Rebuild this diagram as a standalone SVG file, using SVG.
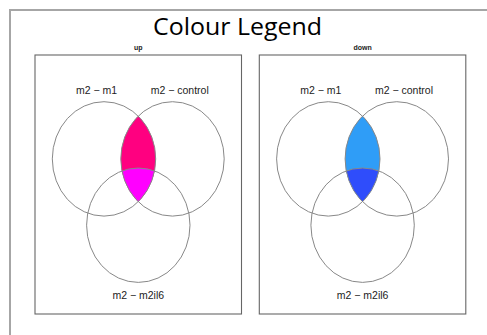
<svg xmlns="http://www.w3.org/2000/svg" width="487" height="335" viewBox="0 0 487 335">
<style>
.frame{fill:none;stroke:#a6a6a6;stroke-width:2}
.box{fill:#fff;stroke:#666;stroke-width:1.1}
.set{fill:none;stroke:#888;stroke-width:1}
.lbl{font-family:"Liberation Sans",Arial,sans-serif;font-size:10.5px;fill:#222;text-anchor:middle}
.ttl{font-family:"Liberation Sans",Arial,sans-serif;font-size:7px;font-weight:bold;fill:#222;text-anchor:middle}
.title{font-family:"Open Sans","Liberation Sans",sans-serif;font-size:23px;fill:#000;text-anchor:middle}
</style>
<defs>
<clipPath id="c1"><ellipse cx="104" cy="158.9" rx="51.7" ry="57.2"/></clipPath>
<clipPath id="c2"><ellipse cx="172.5" cy="158.9" rx="51.7" ry="57.2"/></clipPath>
<g id="sets">
<ellipse class="set" cx="104" cy="158.9" rx="51.7" ry="57.2"/>
<ellipse class="set" cx="172.5" cy="158.9" rx="51.7" ry="57.2"/>
<ellipse class="set" cx="138.3" cy="225.2" rx="51.7" ry="57.2"/>
</g>
<g id="labels">
<text class="lbl" x="96.5" y="94">m2 − m1</text>
<text class="lbl" x="179.7" y="94">m2 − control</text>
<text class="lbl" x="138.3" y="299">m2 − m2il6</text>
</g>
</defs>
<rect width="487" height="335" fill="#fff"/>
<path class="frame" d="M10 335 V10 H487"/>
<text class="title" x="237.5" y="35" textLength="169" lengthAdjust="spacingAndGlyphs">Colour Legend</text>
<g id="panel-up">
<text class="ttl" x="138.3" y="50">up</text>
<rect class="box" x="35" y="55" width="206.5" height="259"/>
<g id="region-up-pair" clip-path="url(#c1)"><ellipse cx="172.5" cy="158.9" rx="51.7" ry="57.2" fill="#ff0080"/></g>
<g id="region-up-triple" clip-path="url(#c1)"><ellipse cx="138.3" cy="225.2" rx="51.7" ry="57.2" fill="#ff00ff" clip-path="url(#c2)"/></g>
<use href="#sets"/>
<use href="#labels"/>
</g>
<g id="panel-down" transform="translate(224.3,0)">
<text class="ttl" x="138.3" y="50">down</text>
<rect class="box" x="35" y="55" width="206.5" height="259"/>
<g id="region-down-pair" clip-path="url(#c1)"><ellipse cx="172.5" cy="158.9" rx="51.7" ry="57.2" fill="#2f9df7"/></g>
<g id="region-down-triple" clip-path="url(#c1)"><ellipse cx="138.3" cy="225.2" rx="51.7" ry="57.2" fill="#2f4dfb" clip-path="url(#c2)"/></g>
<use href="#sets"/>
<use href="#labels"/>
</g>
</svg>
